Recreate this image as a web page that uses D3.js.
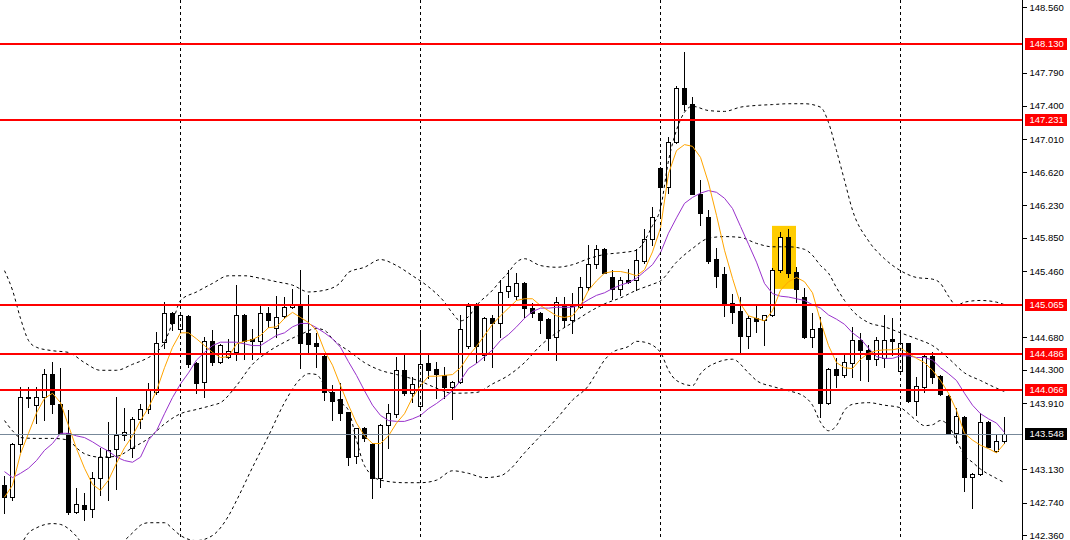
<!DOCTYPE html>
<html><head><meta charset="utf-8">
<script src="https://cdn.jsdelivr.net/npm/d3@7"></script>
<style>
html,body{margin:0;padding:0;background:#fff;}
svg{display:block;}
</style></head><body>
<svg id="chart" width="1070" height="540"></svg>
<script>
// ---- candle data ----
const opens = [142.95,142.81,143.43,143.97,143.89,143.98,144.25,143.90,143.56,142.63,
142.71,142.66,143.03,143.28,143.37,143.53,143.38,143.72,143.84,144.04,
144.63,144.97,144.78,144.93,144.38,144.16,144.64,144.39,144.45,144.51,
144.94,144.66,144.64,144.97,144.79,144.93,145.04,145.06,144.73,144.61,
144.46,144.04,143.96,143.80,143.29,143.62,143.43,143.03,143.65,143.78,
144.30,144.03,143.87,144.38,144.31,144.24,144.10,144.16,144.58,145.05,
144.47,144.91,144.85,145.22,145.17,145.32,145.03,144.97,144.90,144.68,
145.05,144.88,145.04,145.27,145.54,145.72,145.39,145.25,145.35,145.35,
145.58,145.84,146.67,146.45,146.97,147.61,147.42,146.36,146.09,145.60,
145.42,145.08,144.99,144.70,144.91,144.88,144.94,145.47,145.86,145.45,
145.15,144.68,144.79,143.91,144.31,144.24,144.38,144.65,144.53,144.43,
144.44,144.66,144.29,144.61,143.93,144.10,144.46,144.23,143.99,143.56,
143.75,143.04,143.08,143.69,143.35,143.46];
const highs = [143.05,143.44,144.10,144.10,144.10,144.31,144.39,144.32,143.83,142.91,
142.85,143.10,143.38,143.69,143.98,143.85,143.75,143.90,144.14,144.74,
145.10,144.98,144.97,144.94,144.39,144.68,144.77,144.60,144.66,145.30,
144.95,144.78,145.06,145.04,145.17,145.15,145.25,145.47,145.18,144.73,
144.47,144.12,144.14,143.81,143.62,143.63,143.44,143.66,143.90,144.45,
144.47,144.21,144.77,144.47,144.39,144.33,144.17,144.94,145.08,145.08,
144.92,144.94,145.35,145.47,145.44,145.33,145.08,144.98,144.91,145.15,
145.15,145.20,145.39,145.77,145.77,145.73,145.47,145.39,145.48,145.72,
145.95,146.21,146.68,147.03,147.63,148.03,147.50,146.53,146.18,145.73,
145.51,145.19,145.15,144.93,145.05,144.94,145.49,145.92,145.95,145.51,
145.26,144.97,144.92,144.32,144.44,144.49,144.80,144.73,144.59,144.68,
144.94,144.91,144.76,144.62,144.21,144.47,144.51,144.24,144.00,143.85,
143.76,143.09,143.79,143.70,143.55,143.75];
const lows = [142.62,142.77,143.33,143.86,143.67,143.71,143.79,143.55,142.61,142.62,
142.54,142.57,142.83,142.77,142.90,143.48,143.28,143.62,143.79,144.02,
144.56,144.77,144.74,144.33,144.03,143.98,144.36,144.38,144.44,144.41,
144.43,144.43,144.50,144.80,144.68,144.91,145.03,144.32,144.50,144.33,
143.95,143.71,143.71,143.18,143.21,143.46,142.79,142.92,143.38,143.75,
144.00,143.92,143.86,144.20,143.97,143.97,143.72,144.15,144.56,144.39,
144.41,144.33,144.68,145.15,145.13,144.92,144.92,144.73,144.53,144.41,
144.80,144.73,145.03,145.24,145.49,145.44,145.13,145.18,145.32,145.24,
145.55,145.77,146.12,146.38,146.96,147.35,146.36,146.00,145.55,145.27,
144.93,144.85,144.50,144.56,144.74,144.59,144.93,145.45,145.39,145.10,
144.67,144.57,143.75,143.90,144.10,144.21,144.21,144.18,144.17,144.36,
144.33,144.47,144.28,143.92,143.77,144.04,144.14,144.00,143.55,143.44,
142.88,142.68,143.07,143.39,143.33,143.44];
const closes = [142.81,143.43,143.98,143.98,143.98,144.25,143.90,143.56,142.63,142.72,
142.66,143.03,143.28,143.36,143.53,143.57,143.72,143.84,144.06,144.61,
144.97,144.85,144.94,144.37,144.14,144.64,144.39,144.59,144.52,144.94,
144.64,144.64,144.97,144.88,144.92,145.04,145.07,144.61,144.60,144.58,
144.04,143.93,143.79,143.28,143.62,143.50,143.03,143.65,143.79,144.30,
144.03,144.13,144.37,144.30,144.25,144.10,144.16,144.78,145.05,144.58,
144.91,144.85,145.21,145.28,145.32,145.03,144.97,144.88,144.67,145.10,
144.88,145.05,145.27,145.54,145.72,145.44,145.25,145.35,145.33,145.59,
145.84,146.09,146.45,146.97,147.61,147.42,146.36,146.14,145.58,145.40,
145.08,144.98,144.70,144.91,144.87,144.94,145.47,145.86,145.44,145.25,
144.68,144.78,143.91,144.31,144.24,144.39,144.65,144.53,144.43,144.65,
144.65,144.64,144.61,143.93,144.11,144.46,144.21,144.02,143.56,143.76,
143.04,143.08,143.69,143.39,143.46,143.548];

// ---- indicator values ----
const maFast = [142.81,142.95,143.32,143.56,143.80,143.97,144.03,143.92,143.65,143.38,
143.15,142.96,142.89,143.01,143.21,143.39,143.53,143.71,143.86,144.06,
144.33,144.57,144.74,144.74,144.67,144.59,144.51,144.45,144.46,144.61,
144.64,144.66,144.71,144.80,144.81,144.91,144.98,144.92,144.86,144.77,
144.53,144.36,144.12,143.89,143.68,143.53,143.44,143.44,143.53,143.68,
143.79,143.98,144.12,144.23,144.23,144.24,144.25,144.33,144.47,144.58,
144.71,144.84,144.94,145.03,145.12,145.14,145.14,145.06,145.00,144.94,
144.92,144.94,145.06,145.24,145.35,145.44,145.46,145.46,145.44,145.41,
145.48,145.69,145.97,146.61,146.88,146.95,146.93,146.80,146.50,146.12,
145.71,145.38,145.08,144.94,144.91,144.88,145.00,145.24,145.34,145.39,
145.34,145.21,144.88,144.59,144.39,144.33,144.32,144.43,144.50,144.53,
144.54,144.54,144.56,144.50,144.44,144.39,144.30,144.18,144.03,143.83,
143.56,143.48,143.42,143.38,143.33,143.44];
const maSlow = [143.11,143.04,143.09,143.15,143.24,143.36,143.44,143.56,143.56,143.53,
143.51,143.46,143.40,143.35,143.28,143.24,143.22,143.28,143.48,143.59,
143.79,143.98,144.14,144.27,144.42,144.51,144.59,144.63,144.63,144.63,
144.61,144.59,144.59,144.65,144.71,144.74,144.81,144.85,144.85,144.80,
144.74,144.67,144.57,144.40,144.24,144.06,143.89,143.77,143.71,143.70,
143.70,143.73,143.77,143.85,143.91,143.98,144.06,144.18,144.32,144.38,
144.46,144.54,144.65,144.72,144.81,144.91,144.99,145.03,145.03,145.04,
145.04,145.04,145.07,145.13,145.18,145.21,145.26,145.30,145.33,145.38,
145.46,145.54,145.68,145.91,146.09,146.26,146.33,146.38,146.41,146.39,
146.32,146.20,145.99,145.78,145.57,145.32,145.20,145.17,145.16,145.14,
145.12,145.07,145.03,144.95,144.90,144.84,144.74,144.67,144.56,144.46,
144.44,144.44,144.47,144.47,144.45,144.45,144.42,144.33,144.26,144.18,
144.03,143.89,143.79,143.73,143.68,143.57];
// [candle index, price]
const bbUpper = [[0,145.47],[1,145.24],[2,144.91],[3,144.65],[4,144.57],[6,144.53],[8,144.51],[10,144.39],[12,144.30],[14,144.30],[16,144.37],[18,144.45],[19,144.51],[20,144.63],[21,144.86],[22,145.12],[24,145.22],[26,145.32],[28,145.41],[30,145.41],[32,145.38],[34,145.34],[36,145.30],[38,145.22],[40,145.24],[42,145.33],[43,145.45],[45,145.51],[47,145.60],[49,145.53],[51,145.41],[53,145.28],[55,145.10],[56,144.97],[57,144.88],[58,144.93],[59,145.06],[61,145.24],[62,145.35],[63,145.45],[64,145.57],[65,145.61],[67,145.53],[69,145.51],[71,145.54],[73,145.61],[75,145.66],[77,145.68],[79,145.71],[80,145.82],[81,146.00],[82,146.20],[83,146.76],[84,147.12],[85,147.33],[86,147.40],[88,147.35],[90,147.34],[92,147.39],[94,147.41],[96,147.42],[98,147.43],[100,147.43],[102,147.39],[103,147.21],[104,146.88],[105,146.53],[106,146.18],[108,145.82],[110,145.61],[112,145.47],[114,145.39],[116,145.37],[117,145.32],[118,145.17],[119,145.06],[120,145.10],[122,145.12],[124,145.10],[125,145.07]];
const bbMiddle = [[0,143.71],[1,143.59],[2,143.51],[4,143.50],[6,143.50],[8,143.48],[9,143.39],[10,143.32],[12,143.28],[14,143.29],[16,143.39],[18,143.50],[20,143.67],[22,143.79],[24,143.84],[26,143.89],[27,143.92],[29,144.12],[31,144.37],[33,144.52],[35,144.63],[37,144.72],[39,144.79],[40,144.77],[41,144.67],[42,144.59],[43,144.53],[45,144.39],[47,144.30],[49,144.25],[51,144.20],[52,144.17],[54,144.09],[56,144.03],[59,144.04],[61,144.14],[63,144.24],[65,144.39],[67,144.59],[69,144.74],[71,144.86],[73,144.98],[75,145.08],[77,145.15],[79,145.24],[81,145.31],[82,145.35],[84,145.57],[86,145.73],[88,145.85],[90,145.87],[92,145.86],[94,145.79],[96,145.75],[98,145.75],[100,145.72],[101,145.65],[102,145.53],[103,145.44],[104,145.27],[105,145.12],[106,145.00],[108,144.86],[110,144.81],[112,144.74],[114,144.67],[116,144.59],[118,144.44],[120,144.27],[122,144.18],[124,144.09],[125,144.05]];
const bbLower = [[0,141.95],[1,142.07],[2,142.24],[3,142.39],[4,142.45],[6,142.50],[7,142.49],[8,142.44],[9,142.35],[10,142.24],[12,142.21],[14,142.24],[16,142.39],[17,142.48],[18,142.51],[20,142.51],[21,142.44],[22,142.36],[24,142.30],[26,142.36],[28,142.59],[29,142.77],[31,143.16],[33,143.53],[35,143.92],[37,144.20],[38,144.26],[39,144.25],[40,144.12],[41,144.00],[42,143.92],[43,143.83],[44,143.48],[45,143.18],[47,143.01],[50,142.98],[52,142.98],[54,143.01],[56,143.12],[58,143.09],[60,143.04],[62,143.06],[63,143.12],[65,143.33],[67,143.53],[69,143.73],[71,143.95],[73,144.12],[74,144.27],[75,144.42],[76,144.51],[78,144.58],[79,144.64],[80,144.63],[82,144.51],[83,144.30],[84,144.18],[86,144.12],[87,144.26],[89,144.39],[91,144.43],[93,144.27],[94,144.18],[96,144.11],[98,144.06],[100,143.99],[101,143.89],[102,143.69],[103,143.59],[104,143.65],[105,143.83],[106,143.90],[108,143.92],[110,143.89],[112,143.86],[113,143.79],[114,143.71],[115,143.65],[116,143.66],[117,143.71],[118,143.65],[119,143.48],[120,143.30],[121,143.22],[122,143.14],[124,143.03],[125,142.98]];

// ---- levels, axis, markers ----
const levelLines = [148.130, 147.231, 145.065, 144.486, 144.066];
const lastPrice = 143.548;
const axisTicks = [148.560, 147.790, 147.400, 147.010, 146.620, 146.230, 145.850, 145.460, 144.680, 144.300, 143.910, 143.130, 142.740, 142.360];
const separators = [22, 52, 82, 112];
const highlightFrom = 96, highlightTo = 99, highlightTop = 145.99, highlightBottom = 145.25;

// ---- drawing ----
const svg = d3.select("#chart");
const plotRight = 1022;
const x = d3.scaleLinear().domain([0, 125]).range([4, 1004]);
const y = d3.scaleLinear().domain([142.36, 148.56]).range([535, 7]);
const idx = d3.range(opens.length);

svg.append("rect").attr("width",1070).attr("height",540).attr("fill","#fff");
svg.append("defs").append("clipPath").attr("id","plot")
  .append("rect").attr("x",0).attr("y",0).attr("width",plotRight).attr("height",540);
const plot = svg.append("g").attr("clip-path","url(#plot)");

// highlight box
plot.append("rect")
  .attr("x", x(highlightFrom)).attr("width", x(highlightTo) - x(highlightFrom))
  .attr("y", y(highlightTop)).attr("height", y(highlightBottom) - y(highlightTop))
  .attr("fill", "#ffcc00");

// candles
const cg = plot.append("g").attr("shape-rendering","crispEdges");
cg.selectAll("line.wick").data(idx).join("line").attr("class","wick")
  .attr("x1", i => Math.round(x(i)) + 0.5).attr("x2", i => Math.round(x(i)) + 0.5)
  .attr("y1", i => Math.round(y(highs[i])))
  .attr("y2", i => Math.round(y(lows[i])) + 1)
  .attr("stroke", "#000").attr("stroke-width", 1);
cg.selectAll("rect.body").data(idx).join("rect").attr("class","body")
  .attr("x", i => Math.round(x(i)) - 1.5)
  .attr("width", 4)
  .attr("y", i => Math.round(y(Math.max(opens[i], closes[i]))) + 0.5)
  .attr("height", i => Math.max(0, Math.round(y(Math.min(opens[i], closes[i]))) - Math.round(y(Math.max(opens[i], closes[i])))))
  .attr("fill", i => closes[i] >= opens[i] ? "#fff" : "#000")
  .attr("stroke", "#000").attr("stroke-width", 1);

// bollinger bands
const bandLine = d3.line().x(d => x(d[0]) + 0.5).y(d => y(d[1]) + 0.5).curve(d3.curveMonotoneX);
[bbUpper, bbMiddle, bbLower].forEach(b => {
  plot.append("path").attr("d", bandLine(b)).attr("fill","none")
    .attr("stroke","#000").attr("stroke-width",1).attr("stroke-dasharray","3,3");
});

// moving averages
const maLine = d3.line().x((d,i) => x(i) + 0.5).y(d => y(d) + 0.5);
plot.append("path").attr("d", maLine(maSlow)).attr("fill","none").attr("stroke","#9932cc").attr("stroke-width",1);
plot.append("path").attr("d", maLine(maFast)).attr("fill","none").attr("stroke","#ffa500").attr("stroke-width",1);

// period separators
plot.selectAll("line.sep").data(separators).join("line").attr("class","sep")
  .attr("x1", d => Math.round(x(d)) + 0.5).attr("x2", d => Math.round(x(d)) + 0.5)
  .attr("y1", 0).attr("y2", 540)
  .attr("stroke","#000").attr("stroke-width",1).attr("stroke-dasharray","3,3")
  .attr("shape-rendering","crispEdges");

// last price line
plot.append("line").attr("x1",0).attr("x2",plotRight)
  .attr("y1", Math.round(y(lastPrice)) + 0.5).attr("y2", Math.round(y(lastPrice)) + 0.5)
  .attr("stroke","#778899").attr("stroke-width",1).attr("shape-rendering","crispEdges");

// level lines
plot.selectAll("line.level").data(levelLines).join("line").attr("class","level")
  .attr("x1",0).attr("x2",plotRight)
  .attr("y1", d => Math.round(y(d))).attr("y2", d => Math.round(y(d)))
  .attr("stroke","#ff0000").attr("stroke-width",2).attr("shape-rendering","crispEdges");

// price axis
const fmt = d3.format(".3f");
const axis = d3.axisRight(y).tickValues(axisTicks).tickSize(4).tickPadding(3).tickFormat(fmt);
const ag = svg.append("g").attr("transform", `translate(${plotRight + 0.5},0)`).call(axis);
ag.select(".domain").remove();
ag.attr("font-family", "'Liberation Sans', Arial, sans-serif").attr("font-size", 9.5);
ag.selectAll("text").attr("fill", "#000");
ag.selectAll("line").attr("shape-rendering","crispEdges");
svg.append("line").attr("x1", plotRight + 0.5).attr("x2", plotRight + 0.5).attr("y1",0).attr("y2",540)
  .attr("stroke","#000").attr("shape-rendering","crispEdges");

// level labels
const labels = levelLines.map(v => ({v, bg:"#ff0000"})).concat([{v: lastPrice, bg:"#000"}]);
const lg = svg.append("g");
lg.selectAll("rect").data(labels).join("rect")
  .attr("x", plotRight + 3).attr("width", 42)
  .attr("y", d => Math.round(y(d.v)) - 6).attr("height", 12)
  .attr("fill", d => d.bg).attr("shape-rendering","crispEdges");
lg.selectAll("text").data(labels).join("text")
  .attr("x", plotRight + 7.5).attr("y", d => y(d.v)).attr("dy","0.34em")
  .attr("fill","#fff").attr("font-family","'Liberation Sans', Arial, sans-serif").attr("font-size", 9.5)
  .text(d => fmt(d.v));
</script>
</body></html>
